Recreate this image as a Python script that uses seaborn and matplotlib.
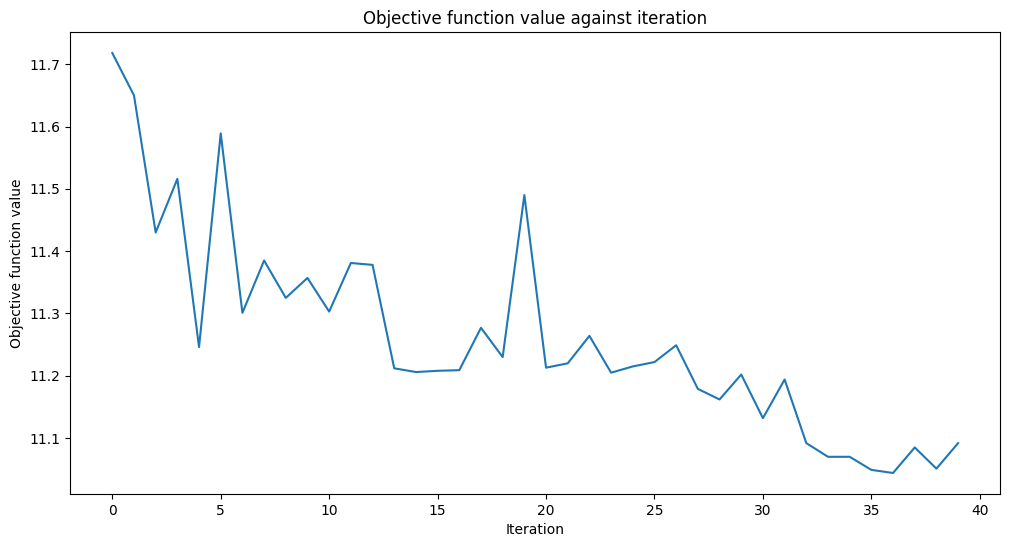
import matplotlib
matplotlib.use("Agg")
import matplotlib.pyplot as plt
import seaborn as sns
import pandas as pd

iterations = list(range(40))
objective_values = [
    11.718, 11.650, 11.430, 11.516, 11.246, 11.589, 11.301, 11.385, 11.325, 11.357,
    11.303, 11.381, 11.378, 11.212, 11.206, 11.208, 11.209, 11.277, 11.230, 11.490,
    11.213, 11.220, 11.264, 11.205, 11.215, 11.222, 11.249, 11.179, 11.162, 11.202,
    11.132, 11.194, 11.092, 11.070, 11.070, 11.049, 11.044, 11.085, 11.051, 11.092,
]

df = pd.DataFrame({"Iteration": iterations, "Objective function value": objective_values})

fig, ax = plt.subplots(figsize=(10.1, 5.47), dpi=100)
fig.subplots_adjust(left=0.0693, right=0.9905, top=0.9415, bottom=0.0969)
sns.lineplot(data=df, x="Iteration", y="Objective function value", ax=ax, color="#1f77b4")
ax.set_title("Objective function value against iteration")
ax.set_xlabel("Iteration")
ax.set_ylabel("Objective function value")
fig.savefig("out.png", dpi=100)
